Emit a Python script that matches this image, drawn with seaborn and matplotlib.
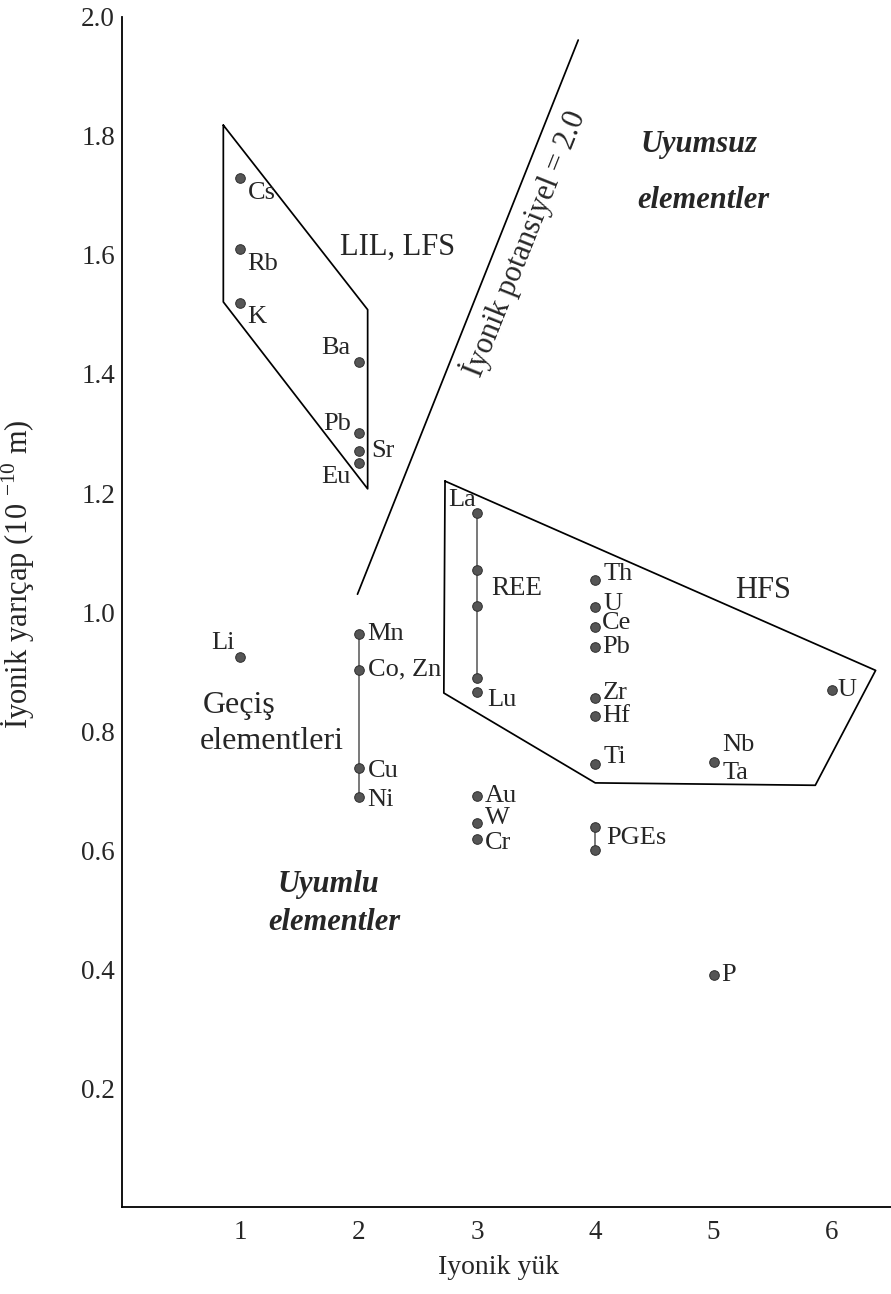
import matplotlib
matplotlib.use("Agg")
import matplotlib.pyplot as plt
import seaborn as sns
import pandas as pd
import numpy as np

# ---------------- data ----------------
element_id = ["Cs", "Rb", "K", "Ba", "Pb2", "Sr", "Eu", "Li",
              "Mn", "CoZn", "Cu", "Ni",
              "La", "REE2", "REE3", "REE4", "Lu",
              "Au", "W", "Cr",
              "Th", "U4", "Ce", "Pb4", "Zr", "Hf", "Ti", "PGE1", "PGE2",
              "NbTa", "P", "U6"]
element_label = ["Cs", "Rb", "K", "Ba", "Pb", "Sr", "Eu", "Li",
                 "Mn", "Co, Zn", "Cu", "Ni",
                 "La", "", "", "", "Lu",
                 "Au", "W", "Cr",
                 "Th", "U", "Ce", "Pb", "Zr", "Hf", "Ti", "PGEs", "",
                 "Nb", "P", "U"]
charge = [1, 1, 1, 2, 2, 2, 2, 1,
          2, 2, 2, 2,
          3, 3, 3, 3, 3,
          3, 3, 3,
          4, 4, 4, 4, 4, 4, 4, 4, 4,
          5, 5, 6]
radius = [1.73, 1.61, 1.52, 1.42, 1.30, 1.27, 1.25, 0.925,
          0.963, 0.903, 0.738, 0.689,
          1.166, 1.071, 1.010, 0.889, 0.866,
          0.691, 0.645, 0.618,
          1.054, 1.008, 0.975, 0.941, 0.855, 0.825, 0.745, 0.639, 0.600,
          0.748, 0.390, 0.869]

# connected series (vertical bars)
transition_ids = ["Mn", "CoZn", "Cu", "Ni"]
ree_ids = ["La", "REE2", "REE3", "REE4"]
pge_ids = ["PGE1", "PGE2"]

# field boundaries
lil_x = [0.856, 0.856, 2.076, 2.076, 0.856]
lil_y = [1.818, 1.521, 1.207, 1.508, 1.818]
hfs_x = [2.73, 2.72, 4.00, 5.86, 6.37, 2.73]
hfs_y = [1.220, 0.864, 0.713, 0.709, 0.902, 1.220]
pot_x = [1.99, 3.856]
pot_y = [1.03, 1.961]

x_ticks = [1, 2, 3, 4, 5, 6]
y_ticks = [0.2, 0.4, 0.6, 0.8, 1.0, 1.2, 1.4, 1.6, 1.8, 2.0]

df = pd.DataFrame({"id": element_id, "label": element_label,
                   "charge": charge, "radius": radius})

# ---------------- style ----------------
sns.set_theme(style="white")
plt.rcParams["font.family"] = ["Liberation Serif", "DejaVu Serif"]
plt.rcParams["mathtext.fontset"] = "custom"
plt.rcParams["mathtext.rm"] = "Liberation Serif"

fig = plt.figure(figsize=(8.91, 12.94), dpi=100)
ax = fig.add_axes([0.137, 0.067, 0.863, 0.92])
ax.set_xlim(0, 6.5)
ax.set_ylim(0, 2.0)

# boundaries
ax.plot(lil_x, lil_y, color="black", lw=1.25)
ax.plot(hfs_x, hfs_y, color="black", lw=1.25)
ax.plot(pot_x, pot_y, color="black", lw=1.25)

# connectors
for ids in (transition_ids, ree_ids, pge_ids):
    sub = df[df["id"].isin(ids)]
    sns.lineplot(data=sub, x="charge", y="radius", ax=ax, color="#555555",
                 lw=1.1, sort=False, estimator=None, orient="y")

sns.scatterplot(data=df, x="charge", y="radius", ax=ax, s=48,
                color="#555555", edgecolor="#2e2e2e", linewidth=0.7,
                zorder=5, legend=False)

# label offsets in pixels (dx, dy, ha)
offs = {
    "Cs": (8, -15, "left"), "Rb": (7, -15, "left"), "K": (7, -14, "left"),
    "Ba": (-8, 14, "right"), "Pb2": (-8, 9, "right"), "Sr": (13, 0, "left"),
    "Eu": (-8, -14, "right"), "Li": (-6, 14, "right"),
    "Mn": (9, 0, "left"), "CoZn": (9, 0, "left"), "Cu": (9, -3, "left"),
    "Ni": (9, -3, "left"), "La": (-1, 13, "right"), "Lu": (10, -8, "left"),
    "Au": (8, 0, "left"), "W": (8, 5, "left"), "Cr": (8, -4, "left"),
    "Th": (8, 6, "left"), "U4": (8, 3, "left"), "Ce": (7, 4, "left"),
    "Pb4": (7, 0, "left"), "Zr": (7, 5, "left"), "Hf": (7, 0, "left"),
    "Ti": (8, 7, "left"), "PGE1": (11, -11, "left"), "NbTa": (9, 17, "left"),
    "P": (8, 0, "left"), "U6": (6, 0, "left"),
}
fs = 19
for _, r in df.iterrows():
    if r["label"] and r["id"] in offs:
        dx, dy, ha = offs[r["id"]]
        ax.annotate(r["label"], (r["charge"], r["radius"]),
                    xytext=(dx * 0.72, dy * 0.72), textcoords="offset points",
                    ha=ha, va="center", fontsize=fs)
# Ta shares the Nb point
nb = df[df["id"] == "NbTa"].iloc[0]
ax.annotate("Ta", (nb["charge"], nb["radius"]), xytext=(9 * 0.72, -11 * 0.72),
            textcoords="offset points", ha="left", va="center", fontsize=fs)

# region labels
ax.text(2.33, 1.613, "LIL, LFS", fontsize=22, ha="center", va="center")
ax.text(5.42, 1.037, "HFS", fontsize=22, ha="center", va="center")
ax.text(3.34, 1.040, "REE", fontsize=19.5, ha="center", va="center")
ax.text(0.68, 0.843, "Geçiş", fontsize=23, ha="left", va="center")
ax.text(0.66, 0.783, "elementleri", fontsize=23, ha="left", va="center")
ax.text(4.88, 1.785, "Uyumsuz", fontsize=22, ha="center", va="center",
        style="italic", weight="bold")
ax.text(4.91, 1.692, "elementler", fontsize=22, ha="center", va="center",
        style="italic", weight="bold")
ax.text(1.31, 0.543, "Uyumlu", fontsize=22, ha="left", va="center",
        style="italic", weight="bold")
ax.text(1.24, 0.478, "elementler", fontsize=22, ha="left", va="center",
        style="italic", weight="bold")

# text parallel to the ionic potential line
p0 = ax.transData.transform((pot_x[0], pot_y[0]))
p1 = ax.transData.transform((pot_x[1], pot_y[1]))
ang = np.degrees(np.arctan2(p1[1] - p0[1], p1[0] - p0[0]))
ax.text(3.40, 1.62, "İyonik potansiyel = 2.0", fontsize=22, ha="center",
        va="center", rotation=ang, rotation_mode="anchor")

# axes
ax.set_xticks(x_ticks)
ax.set_xticklabels([str(v) for v in x_ticks])
ax.set_yticks(y_ticks)
ax.set_yticklabels([f"{v:.1f}" for v in y_ticks])
ax.tick_params(axis="x", direction="in", length=14, width=1.0, labelsize=19.5,
               pad=9, color="black")
ax.tick_params(axis="y", direction="in", length=11, width=0.8, labelsize=19.5,
               pad=5, color="#444444")
for s in ("top", "right"):
    ax.spines[s].set_visible(False)
for s in ("left", "bottom"):
    ax.spines[s].set_color("black")
    ax.spines[s].set_linewidth(1.3)

ax.set_xlabel("Iyonik yük", fontsize=20)
ax.xaxis.set_label_coords(0.49, -0.040)
ax.set_ylabel(r"İyonik yarıçap (10 $^{\mathregular{-10}}$ m)", fontsize=22)
ax.yaxis.set_label_coords(-0.110, 0.532)

fig.savefig("out.png", dpi=100)
